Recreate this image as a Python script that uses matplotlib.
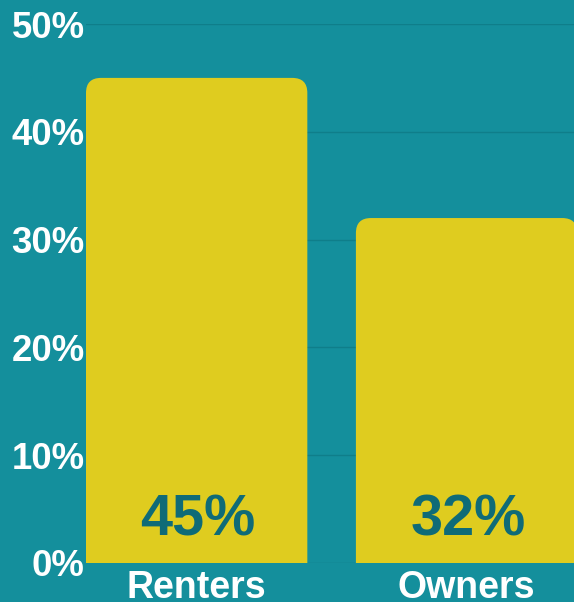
import matplotlib
matplotlib.use("Agg")
import matplotlib.pyplot as plt
from matplotlib.patches import FancyBboxPatch

plt.rcParams.update({
    "font.family": ["Liberation Sans", "DejaVu Sans"],
    "font.weight": "bold",
})

# data
categories = ["Renters", "Owners"]
values = [45, 32]
value_labels = ["45%", "32%"]
y_ticks = [0, 10, 20, 30, 40, 50]
y_tick_labels = ["0%", "10%", "20%", "30%", "40%", "50%"]

BG = "#148f9c"
BAR = "#dfcc1f"
GRID = "#0f7e8a"
INNER = "#0f6b77"

W, H = 574, 602
fig = plt.figure(figsize=(W / 100, H / 100), dpi=100, facecolor=BG)
ax = fig.add_axes([86 / W, 39 / H, (W - 86) / W, 539 / H])
ax.set_facecolor(BG)

ax.set_xlim(-0.41, 1.398)
ax.set_ylim(0, 50)

# bars: let matplotlib place them, then swap in rounded-top versions
bars = ax.bar(range(len(categories)), values, width=0.82, color=BAR)
x_per_px = (1.398 + 0.41) / (W - 86)
y_per_px = 50 / 539
aspect = y_per_px / x_per_px
r = 15 * x_per_px
for b in bars:
    x0, w, h = b.get_x(), b.get_width(), b.get_height()
    b.remove()
    # extend below 0 so bottom corners get clipped away
    ext = 3
    p = FancyBboxPatch((x0, -ext), w, h + ext,
                       boxstyle=f"round,pad=0,rounding_size={r}",
                       mutation_aspect=aspect,
                       facecolor=BAR, edgecolor="none", zorder=2)
    ax.add_patch(p)

for i, (v, lab) in enumerate(zip(values, value_labels)):
    ax.text(i + 0.005, 2.55, lab, ha="center", va="baseline",
            fontsize=41.5, color=INNER, fontweight="bold", zorder=3)

ax.set_yticks(y_ticks)
ax.set_yticklabels(y_tick_labels)
ax.set_xticks(range(len(categories)))
ax.set_xticklabels(categories)
ax.tick_params(axis="y", length=0, pad=1.0, labelsize=26.3, labelcolor="white")
ax.tick_params(axis="x", length=0, pad=5.0, labelsize=27, labelcolor="white")

ax.grid(axis="y", color=GRID, lw=1.0, zorder=0)
ax.set_axisbelow(True)
for s in ax.spines.values():
    s.set_visible(False)

fig.savefig("out.png", dpi=100, facecolor=BG)
